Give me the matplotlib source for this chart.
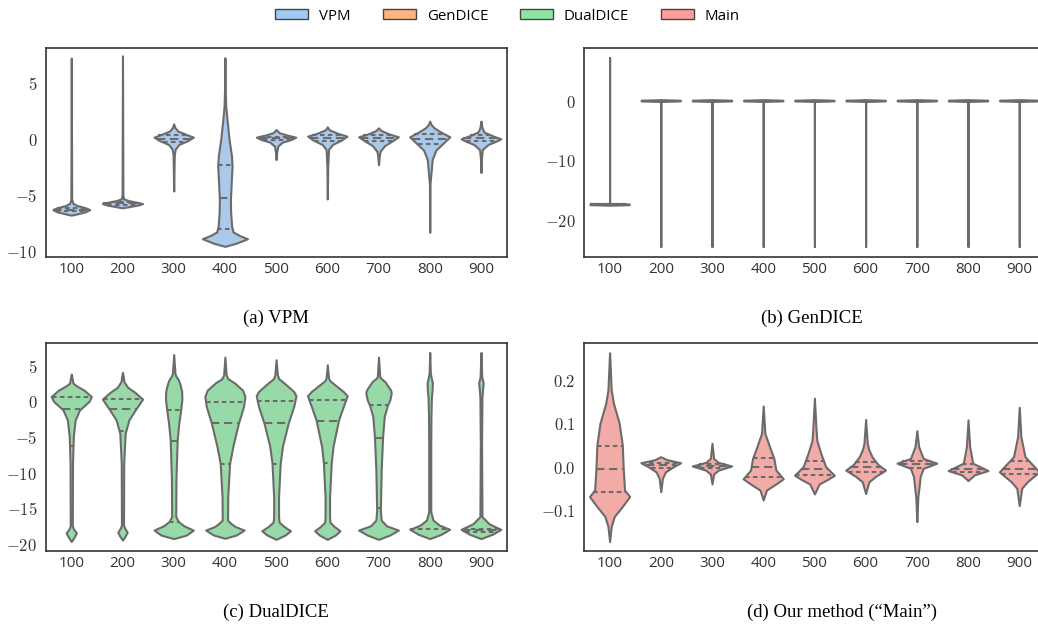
"""
Violin plots of per-step estimates for VPM, GenDICE, DualDICE and Main.
"""
import colorsys

import matplotlib
matplotlib.use("Agg")
import matplotlib.pyplot as plt
import numpy as np
from matplotlib.patches import Patch
from matplotlib.ticker import FixedLocator, FuncFormatter

plt.rcParams["mathtext.fontset"] = "cm"

STEPS = ["100", "200", "300", "400", "500", "600", "700", "800", "900"]
METHODS = ["VPM", "GenDICE", "DualDICE", "Main"]
COLORS = ["#a1c9f4", "#ffb482", "#8de5a1", "#ff9f9b"]

# violin outlines: (value, relative half width), bottom to top
VPM_PROFILES = [
  [(-6.8, 0), (-6.7, 0.25), (-6.5, 0.7), (-6.3, 0.9), (-6.15, 0.7), (-5.95, 0.3),
   (-5.75, 0.08), (-5.4, 0.02), (7.2, 0)],
  [(-6.15, 0), (-6.05, 0.3), (-5.9, 0.75), (-5.77, 0.98), (-5.65, 0.7), (-5.5, 0.3),
   (-5.35, 0.06), (-5.0, 0.02), (7.4, 0)],
  [(-4.65, 0), (-3.0, 0.015), (-1.4, 0.03), (-0.9, 0.08), (-0.5, 0.25), (-0.15, 0.7),
   (0.15, 0.96), (0.4, 0.6), (0.7, 0.2), (1.0, 0.06), (1.34, 0)],
  [(-9.58, 0), (-9.3, 0.55), (-8.9, 1.1), (-8.6, 0.7), (-8.3, 0.4), (-7.8, 0.33),
   (-6.5, 0.28), (-5.4, 0.27), (-3.5, 0.32), (-2.4, 0.35), (-1.5, 0.32), (0.0, 0.2),
   (1.4, 0.12), (2.9, 0.04), (4.5, 0.015), (7.23, 0)],
  [(-1.85, 0), (-1.2, 0.03), (-0.65, 0.08), (-0.3, 0.3), (-0.05, 0.75), (0.15, 0.96),
   (0.35, 0.5), (0.55, 0.15), (0.83, 0)],
  [(-5.36, 0), (-2.5, 0.02), (-0.95, 0.06), (-0.5, 0.25), (-0.1, 0.7), (0.24, 0.96),
   (0.5, 0.5), (0.8, 0.1), (1.07, 0)],
  [(-2.3, 0), (-1.5, 0.04), (-1.1, 0.08), (-0.6, 0.3), (-0.15, 0.7), (0.18, 0.97),
   (0.45, 0.5), (0.75, 0.12), (0.98, 0)],
  [(-8.33, 0), (-4.0, 0.015), (-1.85, 0.12), (-1.0, 0.3), (-0.4, 0.65), (0.18, 0.98),
   (0.6, 0.55), (1.0, 0.2), (1.3, 0.06), (1.58, 0)],
  [(-3.0, 0), (-1.8, 0.02), (-0.95, 0.07), (-0.5, 0.35), (-0.2, 0.75), (0.0, 0.97),
   (0.25, 0.6), (0.6, 0.15), (1.0, 0.05), (1.58, 0)],
]
VPM_QUARTILES = [(-6.45, -6.3, -6.15), (-5.9, -5.75, -5.6), (-0.3, 0.0, 0.3),
                 (-8.05, -5.25, -2.3), (-0.1, 0.05, 0.2), (-0.15, 0.1, 0.35),
                 (-0.15, 0.1, 0.3), (-0.5, 0.0, 0.4), (-0.2, 0.05, 0.3)]

GENDICE_PROFILES = [
  [(-17.5, 0), (-17.4, 0.96), (-17.3, 0.96), (-17.2, 0), (7.2, 0)],
] + [
  [(-24.4, 0), (-0.15, 0), (-0.05, 0.96), (0.05, 0.96), (0.15, 0)]
  for _ in range(8)
]
GENDICE_QUARTILES = [(-17.35, -17.35, -17.35)] + [(0.0, 0.0, 0.0)] * 8

DUALDICE_PROFILES = [
  [(-19.7, 0), (-19.2, 0.12), (-18.5, 0.25), (-17.9, 0.1), (-17.5, 0.05), (-8.7, 0.06),
   (-4.9, 0.1), (-2.6, 0.19), (-1.2, 0.4), (0.0, 0.86), (0.7, 0.98), (1.6, 0.62),
   (2.2, 0.25), (2.6, 0.08), (3.1, 0.05), (3.85, 0)],
  [(-19.5, 0), (-19.0, 0.12), (-18.4, 0.23), (-17.8, 0.1), (-17.4, 0.05), (-8.7, 0.06),
   (-4.5, 0.13), (-2.6, 0.31), (-1.2, 0.62), (0.33, 0.98), (1.3, 0.6), (2.0, 0.25),
   (2.8, 0.07), (3.3, 0.05), (4.1, 0)],
  [(-19.3, 0), (-18.8, 0.62), (-18.1, 0.96), (-17.5, 0.5), (-16.9, 0.23), (-16.2, 0.1),
   (-11.0, 0.11), (-5.4, 0.17), (-3.05, 0.25), (-1.2, 0.34), (0.3, 0.4), (1.4, 0.39),
   (2.3, 0.32), (3.05, 0.23), (3.6, 0.1), (4.0, 0.06), (6.6, 0)],
  [(-19.25, 0), (-18.8, 0.55), (-18.1, 0.94), (-17.6, 0.5), (-17.2, 0.31), (-16.7, 0.13),
   (-13.4, 0.14), (-8.7, 0.23), (-6.3, 0.39), (-3.05, 0.66), (-0.7, 0.91), (0.7, 0.98),
   (1.6, 0.86), (2.6, 0.47), (3.2, 0.15), (3.75, 0.06), (6.24, 0)],
  [(-19.4, 0), (-18.8, 0.44), (-18.2, 0.7), (-17.6, 0.39), (-17.0, 0.15), (-16.3, 0.12),
   (-13.4, 0.12), (-8.7, 0.2), (-6.3, 0.31), (-3.05, 0.59), (-0.7, 0.86), (0.8, 0.97),
   (1.4, 0.86), (2.6, 0.39), (3.2, 0.13), (3.75, 0.06), (5.87, 0)],
  [(-19.4, 0), (-18.8, 0.39), (-18.2, 0.62), (-17.6, 0.34), (-17.0, 0.13), (-16.3, 0.11),
   (-13.4, 0.11), (-8.7, 0.19), (-6.3, 0.28), (-2.6, 0.55), (-0.7, 0.78), (0.8, 0.97),
   (1.4, 0.78), (2.3, 0.39), (2.9, 0.13), (3.3, 0.06), (5.16, 0)],
  [(-19.4, 0), (-18.8, 0.55), (-18.1, 0.97), (-17.5, 0.39), (-16.7, 0.13), (-15.3, 0.09),
   (-9.7, 0.13), (-4.9, 0.2), (-2.1, 0.28), (-0.5, 0.44), (0.2, 0.55), (1.2, 0.62),
   (1.6, 0.59), (2.8, 0.31), (3.3, 0.1), (3.5, 0.06), (6.24, 0)],
  [(-19.3, 0), (-18.7, 0.55), (-18.0, 0.97), (-17.4, 0.47), (-16.7, 0.16), (-15.5, 0.05),
   (-6.0, 0.05), (-2.1, 0.06), (0.5, 0.08), (1.4, 0.11), (2.6, 0.13), (3.5, 0.06),
   (4.0, 0.03), (6.9, 0)],
  [(-19.3, 0), (-18.7, 0.55), (-18.0, 0.97), (-17.2, 0.39), (-16.2, 0.05), (-6.0, 0.03),
   (0.5, 0.05), (1.4, 0.07), (2.6, 0.11), (3.5, 0.04), (6.9, 0)],
]
DUALDICE_QUARTILES = [(-6.2, -1.1, 0.6), (-4.2, -1.0, 0.35), (-16.9, -5.6, -1.2),
                      (-8.8, -3.1, -0.05), (-8.8, -3.0, 0.1), (-8.6, -2.7, 0.2),
                      (-15.0, -5.1, -0.45), (-18.0, -13.6, -3.4), (-18.3, -18.1, -17.9)]

MAIN_PROFILES = [
  [(-0.173, 0), (-0.138, 0.08), (-0.115, 0.23), (-0.092, 0.62), (-0.069, 0.98),
   (-0.054, 0.73), (-0.008, 0.67), (0.05, 0.62), (0.1, 0.47), (0.146, 0.19),
   (0.177, 0.08), (0.263, 0)],
  [(-0.058, 0), (-0.027, 0.08), (-0.012, 0.23), (0.0, 0.62), (0.009, 0.97),
   (0.016, 0.3), (0.023, 0)],
  [(-0.04, 0), (-0.017, 0.08), (-0.008, 0.31), (0.0015, 0.96), (0.01, 0.3),
   (0.019, 0.08), (0.054, 0)],
  [(-0.077, 0), (-0.054, 0.16), (-0.04, 0.62), (-0.028, 0.98), (-0.008, 0.62),
   (0.019, 0.52), (0.046, 0.31), (0.077, 0.08), (0.14, 0)],
  [(-0.063, 0), (-0.04, 0.23), (-0.03, 0.62), (-0.02, 0.97), (0.0, 0.55),
   (0.031, 0.31), (0.06, 0.12), (0.085, 0.08), (0.158, 0)],
  [(-0.062, 0), (-0.035, 0.16), (-0.023, 0.47), (-0.008, 0.97), (0.005, 0.6),
   (0.023, 0.31), (0.04, 0.15), (0.054, 0.08), (0.109, 0)],
  [(-0.127, 0), (-0.07, 0.05), (-0.038, 0.13), (-0.023, 0.16), (-0.004, 0.31),
   (0.008, 0.97), (0.019, 0.31), (0.046, 0.09), (0.083, 0)],
  [(-0.032, 0), (-0.019, 0.31), (-0.009, 0.97), (0.008, 0.23), (0.046, 0.08),
   (0.108, 0)],
  [(-0.09, 0), (-0.05, 0.12), (-0.035, 0.39), (-0.012, 0.97), (0.023, 0.28),
   (0.069, 0.08), (0.137, 0)],
]
MAIN_QUARTILES = [(-0.058, -0.005, 0.048), (-0.004, 0.003, 0.009), (-0.004, 0.001, 0.006),
                  (-0.023, -0.001, 0.021), (-0.02, -0.006, 0.012), (-0.012, -0.001, 0.011),
                  (-0.003, 0.006, 0.012), (-0.012, -0.006, 0.007), (-0.016, -0.006, 0.014)]

CAPTIONS = ["(a) VPM", "(b) GenDICE", "(c) DualDICE", "(d) Our method (\u201cMain\u201d)"]

HALF = 0.4
GRAY = "#6b6b6b"
LW = 1.5


def desaturate(color, prop=0.75):
  r, g, b = matplotlib.colors.to_rgb(color)
  h, l, s = colorsys.rgb_to_hls(r, g, b)
  return colorsys.hls_to_rgb(h, l, s * prop)


def draw_violins(ax, profiles, quartiles, color):
  fc = desaturate(color)
  for i, (prof, quart) in enumerate(zip(profiles, quartiles)):
    ys = np.array([p[0] for p in prof])
    ds = np.array([p[1] for p in prof]) * HALF
    ax.fill_betweenx(ys, i - ds, i + ds, facecolor=fc, edgecolor=GRAY,
                     linewidth=LW, zorder=2)
    for k, q in enumerate(quart):
      w = np.interp(q, ys, ds)
      dashes = (4, 2.2) if k == 1 else (2.2, 1.6)
      ax.plot([i - w, i + w], [q, q], color=GRAY, lw=LW, dashes=dashes,
              solid_capstyle="butt", zorder=3)


def yfmt(fmt):
  return FuncFormatter(lambda v, _: "$" + (fmt % v) + "$")


fig = plt.figure(figsize=(10.38, 6.25), dpi=100)

panels = [
  (VPM_PROFILES, VPM_QUARTILES, COLORS[0], [0.044, 0.5893, 0.444, 0.334],
   (-10.5, 8.1), [-10, -5, 0, 5], "%g"),
  (GENDICE_PROFILES, GENDICE_QUARTILES, COLORS[1], [0.5626, 0.5893, 0.444, 0.334],
   (-26.1, 8.8), [-20, -10, 0], "%g"),
  (DUALDICE_PROFILES, DUALDICE_QUARTILES, COLORS[2], [0.044, 0.1189, 0.444, 0.332],
   (-21.0, 8.2), [-20, -15, -10, -5, 0, 5], "%g"),
  (MAIN_PROFILES, MAIN_QUARTILES, COLORS[3], [0.5626, 0.1189, 0.444, 0.332],
   (-0.194, 0.285), [-0.1, 0.0, 0.1, 0.2], "%.1f"),
]

for profiles, quartiles, color, rect, ylim, yticks, fmt in panels:
  ax = fig.add_axes(rect)
  draw_violins(ax, profiles, quartiles, color)
  ax.set_xlim(-0.5, 8.5)
  ax.set_ylim(*ylim)
  ax.set_xticks(range(len(STEPS)))
  ax.set_xticklabels(STEPS, fontfamily="Open Sans", fontsize=11, color="#333333")
  ax.yaxis.set_major_locator(FixedLocator(yticks))
  ax.yaxis.set_major_formatter(yfmt(fmt))
  ax.tick_params(axis="both", length=0)
  ax.tick_params(axis="x", pad=4, labelsize=11)
  ax.tick_params(axis="y", pad=6, labelsize=12, labelcolor="#333333")
  for sp in ax.spines.values():
    sp.set_color("#333333")
    sp.set_linewidth(1.2)

caption_pos = [(0.266, 0.483), (0.782, 0.483), (0.266, 0.013), (0.811, 0.013)]
for text, (x, y) in zip(CAPTIONS, caption_pos):
  fig.text(x, y, text, ha="center", va="baseline", fontfamily="Liberation Serif",
           fontsize=13.5)

handles = [Patch(facecolor=c, edgecolor="#444444", linewidth=1.0) for c in COLORS]
fig.legend(handles, METHODS, loc="upper center", bbox_to_anchor=(0.489, 1.008),
           ncol=4, frameon=False, prop={"family": "Open Sans", "size": 10.8},
           handlelength=2.2, handleheight=0.65, columnspacing=2.1, handletextpad=0.75)

fig.savefig("out.png", dpi=100)
